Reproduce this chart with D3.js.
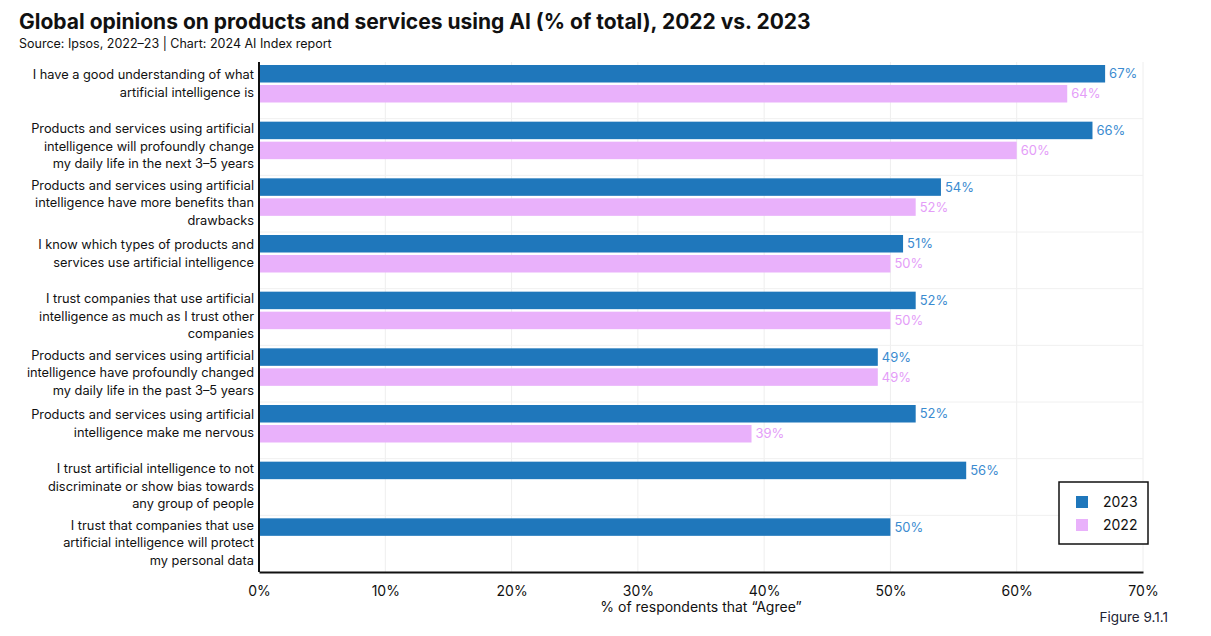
<!DOCTYPE html>
<html><head><meta charset="utf-8">
<script src="https://cdn.jsdelivr.net/npm/d3@7"></script>
<style>body{margin:0;background:#fff;font-family:"Inter","Noto Sans",sans-serif;}</style>
</head><body><div id="chart"></div>
<script>
// data
var categories = [
  "I have a good understanding of what|artificial intelligence is",
  "Products and services using artificial|intelligence will profoundly change|my daily life in the next 3–5 years",
  "Products and services using artificial|intelligence have more benefits than|drawbacks",
  "I know which types of products and|services use artificial intelligence",
  "I trust companies that use artificial|intelligence as much as I trust other|companies",
  "Products and services using artificial|intelligence have profoundly changed|my daily life in the past 3–5 years",
  "Products and services using artificial|intelligence make me nervous",
  "I trust artificial intelligence to not|discriminate or show bias towards|any group of people",
  "I trust that companies that use|artificial intelligence will protect|my personal data"
];
var values2023 = [67, 66, 54, 51, 52, 49, 52, 56, 50];
var values2022 = [64, 60, 52, 50, 50, 49, 39, null, null];
var xTicks = [0, 10, 20, 30, 40, 50, 60, 70];
var seriesNames = ["2023", "2022"];
var colors = ["#1f77bb", "#e9b1fb"];
var labelColors = ["#3b8bd0", "#e49df8"];

var W = 1211, H = 636;
var svg = d3.select("#chart").append("svg").attr("width", W).attr("height", H);

svg.append("text").attr("x", 19).attr("y", 29).attr("font-size", 21).attr("font-weight", 700)
  .attr("fill", "#111").text("Global opinions on products and services using AI (% of total), 2022 vs. 2023");
svg.append("text").attr("x", 19).attr("y", 48).attr("font-size", 12.5).attr("fill", "#111")
  .text("Source: Ipsos, 2022–23 | Chart: 2024 AI Index report");

var mLeft = 259, mRight = 1143, mTop = 62, mBottom = 572;
var x = d3.scaleLinear().domain([0, 70]).range([mLeft, mRight]);
var y = d3.scaleBand().domain(d3.range(categories.length)).range([mTop, mBottom]);
var barH = 17.5;

// grid
svg.append("g").selectAll("line").data(xTicks.slice(1)).join("line")
  .attr("x1", function(d){ return x(d); }).attr("x2", function(d){ return x(d); })
  .attr("y1", mTop).attr("y2", mBottom).attr("stroke", "#eee");
svg.append("g").selectAll("line").data(d3.range(1, categories.length)).join("line")
  .attr("x1", mLeft).attr("x2", mRight)
  .attr("y1", function(d){ return y(d); }).attr("y2", function(d){ return y(d); }).attr("stroke", "#f0f0f0");

var rows = [];
categories.forEach(function(c, i){
  [values2023[i], values2022[i]].forEach(function(v, s){
    if (v != null) rows.push({i: i, s: s, v: v});
  });
});
function by(d){ return y(d.i) + 3 + d.s * (barH + 2.5); }

svg.append("g").selectAll("rect").data(rows).join("rect")
  .attr("x", x(0)).attr("y", by)
  .attr("width", function(d){ return x(d.v) - x(0); }).attr("height", barH)
  .attr("fill", function(d){ return colors[d.s]; });
svg.append("g").selectAll("text").data(rows).join("text")
  .attr("x", function(d){ return x(d.v) + 4; }).attr("y", function(d){ return by(d) + barH/2 + 4.5; })
  .attr("font-size", 13).attr("fill", function(d){ return labelColors[d.s]; })
  .text(function(d){ return d.v + "%"; });

// category labels
svg.append("g").selectAll("text").data(categories).join("text")
  .attr("text-anchor", "end").attr("font-size", 12.8).attr("fill", "#111")
  .each(function(c, i){
    var lines = c.split("|"), t = d3.select(this);
    var yc = lines.length === 2 ? y(i) + 17 : y(i) + 23 - 8.5;
    lines.forEach(function(l, k){
      t.append("tspan").attr("x", mLeft - 5).attr("y", yc + k * 17.5).text(l);
    });
  });

// axes lines
svg.append("line").attr("x1", mLeft).attr("x2", mLeft).attr("y1", mTop).attr("y2", mBottom).attr("stroke", "#111").attr("stroke-width", 2);
var xa = svg.append("g").attr("transform", "translate(0," + mBottom + ")")
  .call(d3.axisBottom(x).tickValues(xTicks).tickSize(0).tickFormat(function(d){ return d + "%"; }));
xa.select(".domain").attr("stroke", "#111").attr("stroke-width", 2);
xa.selectAll("text").attr("font-size", 14).attr("font-family", "Inter, Noto Sans, sans-serif").attr("fill", "#111").attr("dy", "1.5em");

svg.append("text").attr("x", x(35)).attr("y", 612).attr("text-anchor", "middle").attr("font-size", 14).attr("fill", "#111")
  .text("% of respondents that “Agree”");
svg.append("text").attr("x", 1168).attr("y", 622).attr("text-anchor", "end").attr("font-size", 13.5).attr("fill", "#223")
  .text("Figure 9.1.1");

// legend
var lg = svg.append("g").attr("transform", "translate(1059,482)");
lg.append("rect").attr("width", 89).attr("height", 62).attr("fill", "#fff").attr("stroke", "#111").attr("stroke-width", 1.5);
seriesNames.forEach(function(n, k){
  lg.append("rect").attr("x", 17).attr("y", 14 + k * 23).attr("width", 12).attr("height", 12).attr("fill", colors[k]);
  lg.append("text").attr("x", 44).attr("y", 25 + k * 23).attr("font-size", 14).attr("fill", "#111").text(n);
});
</script></body></html>
